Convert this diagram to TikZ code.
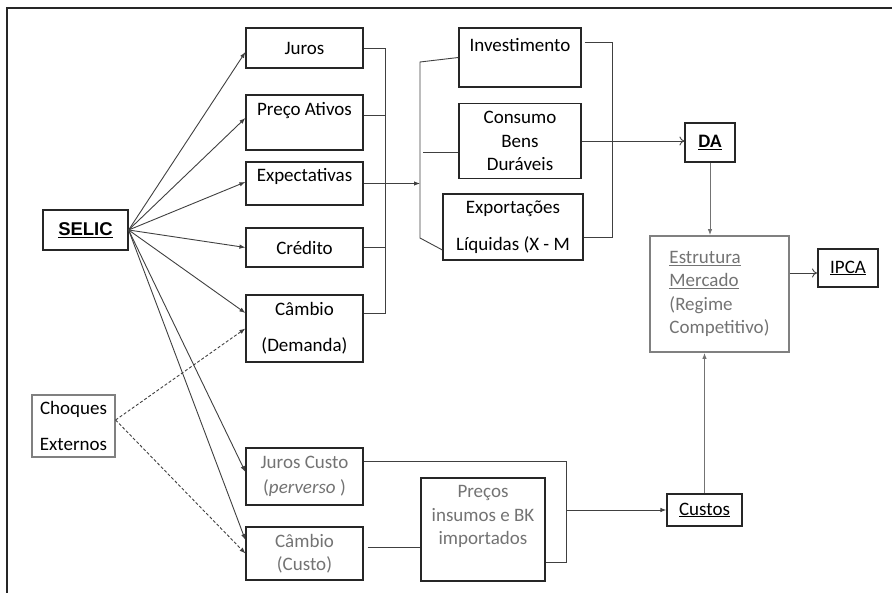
\documentclass[tikz,border=0pt]{standalone}
\usepackage{fontspec}
\setmainfont{Carlito}
\newfontfamily\selicfont{Liberation Sans}
\usetikzlibrary{arrows.meta}

\begin{document}
\begin{tikzpicture}[x=1pt, y=-1pt, font=\fontsize{19}{23.5}\selectfont,
		box/.style={draw=black!85, line width=1.2pt, inner sep=2pt, align=center},
		graybox/.style={box, draw=black!50},
		graytxt/.style={text=black!55},
		line/.style={draw=black!75, line width=0.9pt},
		arr/.style={line, -{Latex[length=6pt,width=4.5pt]}},
		openarr/.style={line, -{To[length=5pt,width=9pt]}},
		dashline/.style={dash pattern=on 3pt off 2pt}]
		\useasboundingbox (0,0) rectangle (892,593);
		\draw[line width=1.3pt, black!85] (7,593) -- (7,8) -- (892,8);
		\node[box, minimum width=85, minimum height=40, font=\selicfont\bfseries\fontsize{18.5}{22}\selectfont] (selic) at (85.5,230) {\underline{SELIC}};
		\node[graybox, minimum width=83, minimum height=62] (choq) at (73.5,426) {Choques\\[12.5pt]Externos};
		\node[box, minimum width=117, minimum height=40] (juros) at (304.5,48) {Juros};
		\node[box, minimum width=117, minimum height=55, text depth=27pt] (preco) at (304.5,122.5) {Preço Ativos};
		\node[box, minimum width=117, minimum height=43, text depth=17pt] (expec) at (304.5,183.5) {Expectativas};
		\node[box, minimum width=117, minimum height=39] (cred) at (304.5,247.5) {Crédito};
		\node[box, minimum width=117, minimum height=67] (cambd) at (304.5,328.5) {Câmbio\\[12.5pt](Demanda)};
		\node[box, graytxt, minimum width=117, minimum height=57] (jcusto) at (304.5,476.5) {Juros Custo\\[1.5pt](\textit{perverso} )};
		\node[box, graytxt, minimum width=117, minimum height=53] (ccusto) at (304.5,553.5) {Câmbio\\(Custo)};
		\node[box, minimum width=122, minimum height=59, text depth=25pt] (invest) at (520,57.5) {Investimento};
		\node[box, minimum width=122, minimum height=75] (consumo) at (520,141) {Consumo\\Bens\\Duráveis};
		\node[box, minimum width=140, minimum height=66] (export) at (513,227) {Exportações\\[13.5pt]Líquidas (X - M};
		\node[box, graytxt, minimum width=124, minimum height=103, text depth=29pt] (precos) at (483,529.5) {Preços\\insumos e BK\\importados};
		\node[box, minimum width=50, minimum height=39, font=\fontsize{19}{23.5}\selectfont\bfseries] (da) at (710,142.5) {\underline{DA}};
		\node[graybox, graytxt, line width=1.8pt, minimum width=139, minimum height=116, align=left] (estrut) at (719.5,294) {\underline{Estrutura}\\\underline{Mercado}\\(Regime\\Competitivo)};
		\node[box, line width=2pt, minimum width=60, minimum height=38] (ipca) at (848,268) {\underline{IPCA}};
		\node[box, minimum width=75, minimum height=32] (custos) at (704.5,510) {\underline{Custos}};
		\coordinate (brA) at (385,0);
		\coordinate (brB) at (420,0);
		\coordinate (brC) at (612,0);
		\coordinate (brD) at (566,0);
		\foreach \t/\s in {juros/-4, preco/4.5, expec/1.5, cred/0, cambd/15.5, jcusto/4.5, ccusto/13.5}
			\draw[arr] (selic.east) -- ([yshift=\s pt]\t.west);
		\draw[arr, dashline] ([yshift=6pt]choq.east) -- (cambd.west);
		\draw[arr, dashline] ([yshift=6pt]choq.east) -- (ccusto.west);
		\coordinate (cdOut) at ([yshift=15.5pt]cambd.east);
		\coordinate (prOut2) at ([yshift=7.5pt]preco.east);
		\draw[line] (juros.east) -- (juros.east -| brA) -- (cdOut -| brA) -- (cdOut);
		\draw[line] (prOut2) -- (prOut2 -| brA);
		\draw[line] (cred.east) -- (cred.east -| brA);
		\draw[arr] (expec.east) -- (expec.east -| brB);
		\coordinate (bBtop) at (420,62);
		\coordinate (bBbot) at (420,238);
		\coordinate (coIn) at ([yshift=-11.5pt]consumo.west);
		\draw[line] (invest.west) -- (bBtop) -- (bBbot) -- ([yshift=-23pt]export.west);
		\draw[line] (coIn) -- ++(-35,0);
		\coordinate (invOut) at ([yshift=15.5pt]invest.east);
		\coordinate (expOut) at ([yshift=-10pt]export.east);
		\draw[line] ([xshift=3pt]invOut) -- (invOut -| brC) -- (expOut -| brC) -- (expOut);
		\draw[openarr] (consumo.east) -- (consumo.east -| da.west);
		\draw[arr, draw=black!55] (da.south) -- (da.south |- estrut.north);
		\draw[arr, draw=black!55] (custos.north) -- (custos.north |- estrut.south);
		\coordinate (ipIn) at ([yshift=-5pt]ipca.west);
		\draw[openarr] (ipIn -| estrut.east) -- (ipIn);
		\coordinate (jcOut) at ([yshift=15.5pt]jcusto.east);
		\coordinate (prOut) at ([yshift=-32.5pt]precos.east);
		\draw[line] (jcOut) -- (jcOut -| brD) -- (prOut -| brD) -- (prOut);
		\draw[arr] (custos.west -| brD) -- (custos.west);
		\coordinate (ccOut) at ([yshift=6.5pt]ccusto.east);
		\draw[line] ([xshift=4pt]ccOut) -- (ccOut -| precos.west);
	\end{tikzpicture}
\end{document}
